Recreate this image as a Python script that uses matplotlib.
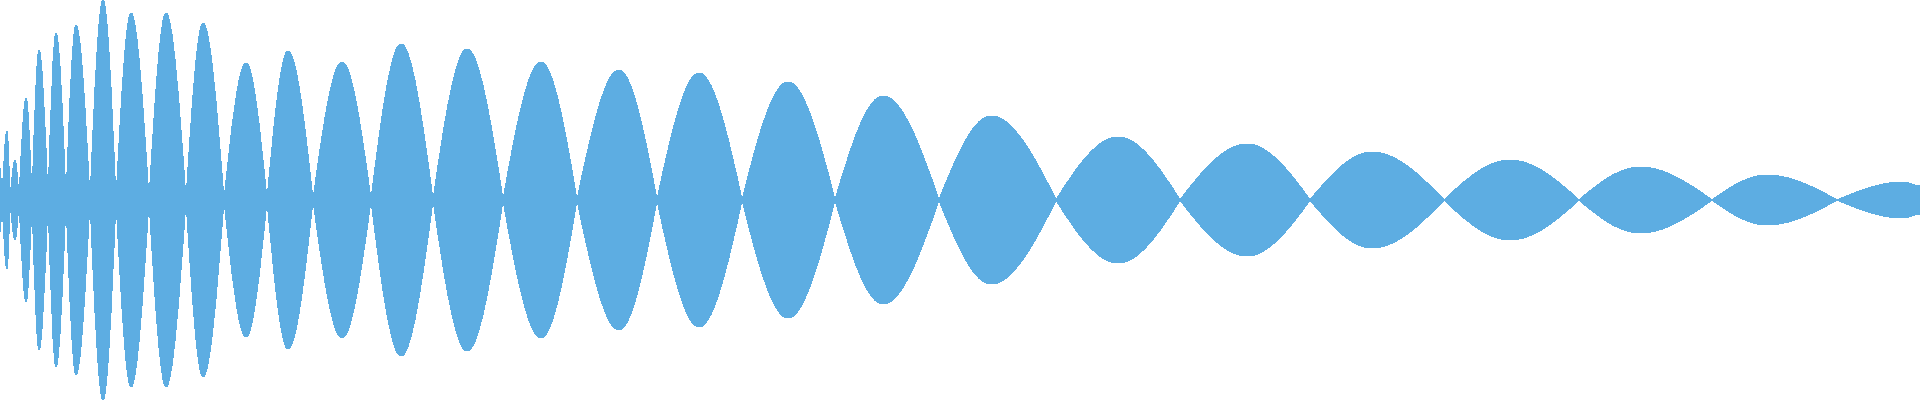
import matplotlib
matplotlib.use("Agg")
import matplotlib.pyplot as plt
from matplotlib.path import Path
from matplotlib.patches import PathPatch

# Envelope of the waveform: alternating peaks and zero-crossings (nodes)
# x positions (time axis, 0..1920) and amplitude (half-height, max 200)
env_x = [0, 2, 7, 10, 15, 19, 26, 32, 39, 48, 56, 66, 76, 90, 103, 116,
         131, 149, 166, 186, 203, 224, 246, 267, 288, 313, 342, 371, 401,
         433, 467, 503, 541, 577, 619, 657, 699, 742, 788, 835, 883, 939,
         991, 1056, 1118, 1180, 1247, 1310, 1372, 1444, 1510, 1579, 1640,
         1712, 1767, 1837, 1903, 1920]
env_amp = [32, 0, 69, 0, 40, 0, 102, 0, 150, 0, 167, 0, 175, 0, 200, 0,
           187, 0, 187, 0, 177, 0, 137, 0, 149, 0, 138, 0, 156,
           0, 151, 0, 138, 0, 130, 0, 127, 0, 118, 0, 104, 0,
           84, 0, 63, 0, 56, 0, 48, 0, 40, 0, 33,
           0, 25, 0, 18, 14]

COLOR = "#5DADE2"
K = 0.5236  # sine-like tangent factor at zero crossings


def segment_ctrl(x0, a0, x1, a1, sign):
    w = x1 - x0
    c1y = a0 if a0 > 0 else a1 * K
    c2y = a1 if a1 > 0 else a0 * K
    if a0 > 0 and a1 > 0:
        c1y, c2y = a0, a1
    return [(x0 + w / 3, sign * c1y), (x1 - w / 3, sign * c2y), (x1, sign * a1)]


verts = [(env_x[0], env_amp[0])]
codes = [Path.MOVETO]
for i in range(len(env_x) - 1):
    verts += segment_ctrl(env_x[i], env_amp[i], env_x[i + 1], env_amp[i + 1], 1)
    codes += [Path.CURVE4] * 3
verts.append((env_x[-1], -env_amp[-1]))
codes.append(Path.LINETO)
for i in range(len(env_x) - 1, 0, -1):
    verts += segment_ctrl(env_x[i], env_amp[i], env_x[i - 1], env_amp[i - 1], -1)
    codes += [Path.CURVE4] * 3
verts.append((env_x[0], env_amp[0]))
codes.append(Path.CLOSEPOLY)

fig = plt.figure(figsize=(19.2, 4.0), dpi=100)
ax = fig.add_axes([0, 0, 1, 1])
ax.add_patch(PathPatch(Path(verts, codes), facecolor=COLOR, edgecolor="none",
                       antialiased=False))
ax.set_xlim(0, 1920)
ax.set_ylim(-200, 200)
ax.axis("off")
fig.savefig("out.png", dpi=100, facecolor="white")
